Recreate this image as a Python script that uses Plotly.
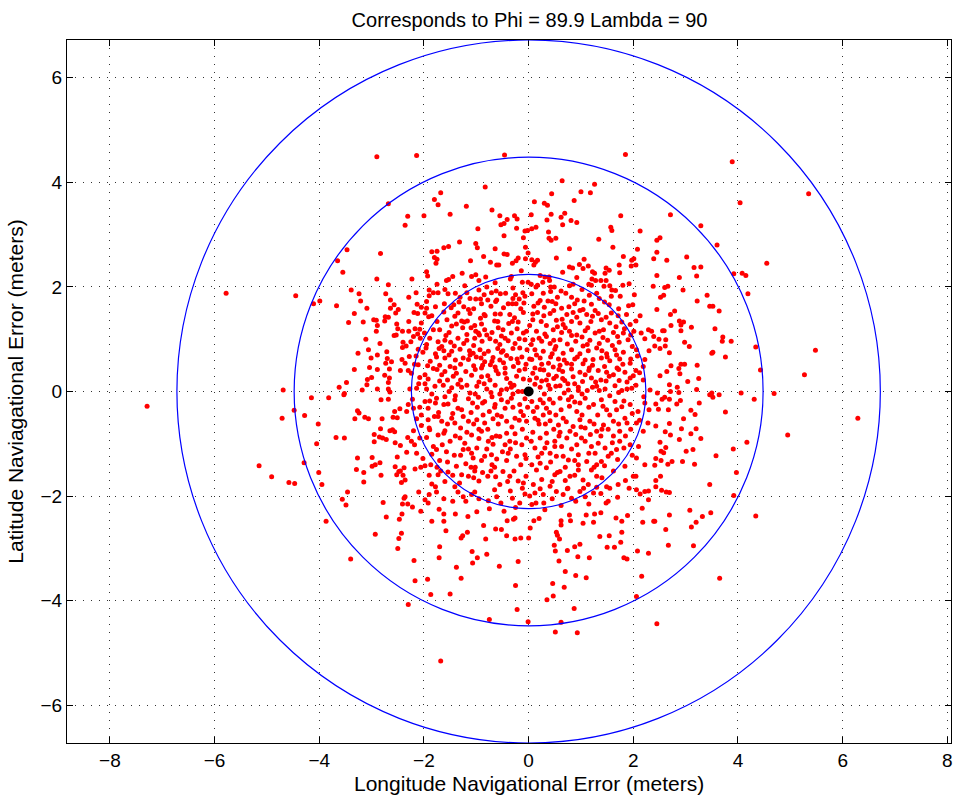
import plotly.graph_objects as go

title_text = "Corresponds to Phi = 89.9 Lambda = 90"
x_title = "Longitude Navigational Error (meters)"
y_title = "Latitude Naviagational Error (meters)"
x_ticks = [-8, -6, -4, -2, 0, 2, 4, 6, 8]
y_ticks = [-6, -4, -2, 0, 2, 4, 6]
circle_radii = [2.24, 4.48, 6.72]
center_point = [0.0, 0.0]

# (longitude error, latitude error) pairs, grouped by region
pts_upper_left = [
    (-2.90, 4.49), (-2.68, 3.59), (-2.36, 3.18), (-3.47, 2.71), (-3.65, 2.50), (-2.83, 2.64),
    (-3.55, 2.28), (-2.90, 2.15), (-2.68, 2.04), (-4.45, 1.83), (-4.11, 1.68), (-3.99, 1.73),
    (-3.39, 1.94), (-3.24, 1.87), (-2.73, 1.87), (-3.21, 1.73), (-2.64, 1.75), (-3.67, 1.64),
    (-2.57, 1.66), (-3.09, 1.59), (-2.64, 1.59), (-3.33, 1.49), (-2.49, 1.57), (-2.96, 1.37),
    (-2.91, 1.36), (-2.74, 1.43), (-2.68, 1.42), (-2.75, 1.35), (-2.54, 1.50), (-3.44, 1.32),
    (-3.16, 1.33), (-2.89, 1.26), (-2.52, 1.29), (-2.91, 1.15), (-2.50, 1.20), (-2.41, 1.15),
    (-2.57, 1.07), (-2.53, 1.08), (-3.11, 1.00), (-2.84, 0.92), (-2.40, 0.94), (-2.41, 0.84),
    (-3.06, 0.80), (-3.26, 0.73), (-2.71, 0.76), (-2.89, 0.70), (-3.01, 0.64), (-2.70, 0.63),
    (-2.73, 0.54), (-2.62, 0.57), (-2.42, 0.61), (-3.04, 0.46), (-2.89, 0.42), (-2.66, 0.43),
    (-2.45, 0.40), (-3.33, 0.42), (-2.75, 0.31), (-2.66, 0.26), (-3.00, 0.27), (-3.08, 0.23),
    (-3.48, 0.17), (-3.09, 0.13), (-2.68, 0.17), (-3.62, 0.08), (-3.18, 0.03), (-2.89, 0.05),
    (-2.68, 0.05), (-4.69, 0.03), (-3.52, -0.04), (-2.65, -0.01), (-5.78, 1.88),
]

pts_upper_mid_left = [
    (-2.14, 4.51), (-0.46, 4.52), (-0.83, 3.91), (-1.68, 3.80), (-1.80, 3.67), (-1.73, 3.57),
    (-1.19, 3.54), (-0.70, 3.47), (-2.31, 3.35), (-2.00, 3.36), (-1.50, 3.39), (-0.55, 3.36),
    (-0.41, 3.29), (-0.27, 3.36), (-0.22, 3.30), (-0.53, 3.19), (-0.47, 3.21), (-0.97, 3.11),
    (-0.23, 3.12), (-0.07, 3.07), (-0.02, 3.08), (-0.47, 2.98), (-0.10, 2.94), (-1.32, 2.86),
    (-1.01, 2.83), (-1.53, 2.77), (-1.62, 2.75), (-0.64, 2.73), (-0.98, 2.75), (-1.85, 2.67),
    (-1.75, 2.68), (-0.06, 2.76), (-0.01, 2.65), (-0.47, 2.63), (-0.41, 2.62), (-0.20, 2.55),
    (-0.06, 2.54), (-0.86, 2.58), (-1.80, 2.56), (-1.75, 2.53), (-1.77, 2.45), (-1.11, 2.50),
    (-0.73, 2.47), (-0.61, 2.42), (-0.57, 2.42), (-0.31, 2.45), (-0.24, 2.50), (-0.14, 2.31),
    (-1.95, 2.29), (-1.93, 2.21), (-1.27, 2.26), (-1.09, 2.20), (-1.01, 2.23), (-1.57, 2.12),
    (-1.53, 2.14), (-2.23, 2.15), (-0.82, 2.19), (-0.33, 2.20), (-0.12, 2.09), (-0.01, 2.09),
    (-0.64, 2.08),
    (-1.90, 1.94), (-1.82, 1.89), (-1.73, 1.89), (-2.15, 1.89), (-2.29, 1.80), (-1.90, 1.83),
    (-1.54, 1.87), (-1.40, 1.88), (-1.31, 1.80), (-1.18, 1.89), (-0.95, 1.94), (-0.85, 1.85),
    (-0.71, 1.89), (-0.54, 1.87), (-0.44, 1.88), (-0.11, 1.89), (-1.01, 1.77), (-0.92, 1.77),
    (-0.90, 1.68), (-0.78, 1.75), (-0.61, 1.75), (-0.30, 1.78), (-0.18, 1.77), (-0.07, 1.82),
    (-2.13, 1.67), (-2.05, 1.61), (-1.95, 1.59), (-1.61, 1.68), (-1.43, 1.66), (-1.48, 1.60),
    (-1.24, 1.62), (-1.15, 1.57), (-0.39, 1.68), (-0.31, 1.68), (-0.24, 1.68), (-0.09, 1.69),
    (-2.19, 1.51), (-2.12, 1.49), (-1.98, 1.50), (-1.91, 1.43), (-1.85, 1.45), (-1.35, 1.50),
    (-0.85, 1.47), (-0.83, 1.45), (-0.64, 1.48), (-0.54, 1.48), (-0.36, 1.47), (-0.10, 1.51),
    (-1.75, 1.34), (-2.29, 1.34), (-1.56, 1.37), (-1.28, 1.35), (-1.23, 1.33), (-1.17, 1.35),
    (-1.03, 1.26), (-0.90, 1.29), (-0.65, 1.35), (-0.59, 1.34), (-0.31, 1.34), (-0.20, 1.33),
    (-2.17, 1.20), (-2.08, 1.19), (-1.99, 1.12), (-2.29, 1.15), (-1.70, 1.18), (-1.52, 1.13),
    (-1.38, 1.29), (-1.10, 1.22), (-1.01, 1.15), (-0.94, 1.08), (-0.84, 1.18), (-0.70, 1.13),
    (-0.49, 1.18), (-0.33, 1.12), (-0.10, 1.12), (-0.04, 1.15), (-2.20, 1.05), (-2.07, 1.02),
    (-1.89, 1.02), (-1.73, 0.95), (-1.60, 0.98), (-1.49, 0.94), (-1.42, 0.87), (-1.24, 0.92),
    (-1.18, 0.98), (-1.03, 1.02), (-0.89, 0.96), (-0.74, 1.01), (-0.63, 0.96), (-0.45, 1.02),
    (-0.39, 0.97), (-0.26, 0.92), (-0.07, 0.99), (-2.34, 0.87), (-2.11, 0.81), (-1.96, 0.83),
    (-1.71, 0.82), (-1.62, 0.78), (-1.47, 0.77), (-1.31, 0.81), (-1.13, 0.78), (-1.06, 0.73),
    (-0.93, 0.80), (-0.77, 0.77), (-0.59, 0.82), (-0.49, 0.78), (-0.17, 0.83), (-0.03, 0.80),
    (-2.28, 0.67), (-1.76, 0.66), (-1.60, 0.64), (-1.25, 0.64), (-1.15, 0.61), (-0.91, 0.64),
    (-0.84, 0.57), (-0.68, 0.65), (-0.55, 0.60), (-0.34, 0.63), (-0.13, 0.66), (-2.36, 0.54),
    (-2.11, 0.51), (-1.93, 0.49), (-1.82, 0.44), (-1.75, 0.42), (-1.50, 0.48), (-1.41, 0.45),
    (-1.05, 0.49), (-0.90, 0.45), (-0.73, 0.51), (-0.64, 0.47), (-0.45, 0.45), (-0.29, 0.48),
    (-0.07, 0.43), (-2.24, 0.35), (-2.08, 0.27), (-1.92, 0.24), (-1.66, 0.32), (-1.44, 0.29),
    (-1.30, 0.22), (-1.09, 0.31), (-0.90, 0.28), (-0.74, 0.22), (-0.58, 0.34), (-0.42, 0.25),
    (-0.23, 0.29), (-0.10, 0.24), (-2.27, 0.05), (-2.14, 0.06), (-1.98, 0.15), (-1.79, 0.10),
    (-1.63, 0.12), (-1.47, 0.07), (-1.28, 0.08), (-1.12, -0.03), (-0.99, 0.10), (-0.80, 0.05),
    (-0.64, 0.12), (-0.52, 0.03), (-0.33, 0.08), (-0.20, 0.00),
]

pts_upper_mid_right = [
    (1.85, 4.53), (0.64, 4.03), (1.26, 3.96), (1.00, 3.82), (1.18, 3.80), (0.44, 3.78),
    (0.11, 3.63), (0.87, 3.65), (0.30, 3.60), (0.36, 3.56), (0.05, 3.38), (0.43, 3.39),
    (0.69, 3.41), (0.62, 3.33), (1.76, 3.36), (0.35, 3.28), (0.81, 3.27), (0.92, 3.23),
    (0.65, 3.19), (0.06, 3.11), (0.14, 3.14), (1.57, 3.14), (1.59, 3.08), (2.13, 3.07),
    (0.38, 3.05), (0.39, 2.93), (0.43, 2.89), (0.52, 2.93), (1.34, 2.91), (0.78, 2.73),
    (1.61, 2.76), (2.08, 2.72), (0.53, 2.55), (1.06, 2.53), (1.81, 2.58), (2.01, 2.54),
    (2.39, 2.54), (0.06, 2.52), (0.13, 2.47), (0.17, 2.51), (0.10, 2.42), (0.97, 2.43),
    (1.97, 2.51), (2.05, 2.42), (1.96, 2.40), (1.73, 2.42), (0.78, 2.38), (0.84, 2.36),
    (1.14, 2.40), (1.04, 2.35), (1.22, 2.29), (1.26, 2.26), (1.48, 2.36), (1.54, 2.32),
    (1.74, 2.27), (1.46, 2.26), (0.31, 2.19), (0.39, 2.19), (0.27, 2.09), (1.21, 2.15),
    (1.28, 2.12), (1.38, 2.12), (1.48, 2.12), (0.17, 2.03), (0.14, 2.00), (0.42, 2.00),
    (0.49, 2.00), (0.78, 2.02), (1.20, 2.03), (1.44, 2.01), (1.59, 1.94), (1.66, 1.93),
    (1.80, 2.03), (1.92, 2.06), (2.38, 2.01),
    (0.06, 1.87), (0.42, 1.91), (0.22, 1.74), (0.45, 1.72), (0.55, 1.80), (0.71, 1.88),
    (0.82, 1.80), (0.93, 1.75), (1.16, 1.84), (1.35, 1.78), (0.10, 1.63), (0.30, 1.61),
    (0.52, 1.68), (0.63, 1.59), (0.88, 1.68), (1.04, 1.57), (1.20, 1.67), (1.54, 1.66),
    (1.91, 1.64), (1.99, 1.66), (0.17, 1.51), (0.41, 1.49), (0.73, 1.47), (0.85, 1.51),
    (1.11, 1.47), (1.33, 1.49), (1.58, 1.50), (1.71, 1.45), (1.87, 1.47), (2.13, 1.45),
    (0.08, 1.37), (0.24, 1.34), (0.34, 1.26), (0.53, 1.36), (0.66, 1.28), (0.82, 1.34),
    (0.98, 1.31), (1.19, 1.34), (1.39, 1.37), (1.55, 1.31), (1.78, 1.33), (1.94, 1.28),
    (2.29, 1.18), (2.35, 1.15), (0.15, 1.15), (0.31, 1.10), (0.47, 1.18), (0.63, 1.13),
    (0.78, 1.15), (0.92, 1.08), (1.08, 1.16), (1.27, 1.12), (1.43, 1.18), (1.62, 1.13),
    (1.81, 1.12), (2.01, 1.15), (2.22, 1.01), (0.08, 0.99), (0.25, 0.96), (0.41, 0.92),
    (0.60, 0.99), (0.74, 0.91), (0.90, 0.96), (1.04, 0.87), (1.17, 0.98), (1.35, 0.92),
    (1.51, 0.98), (1.73, 0.94), (1.90, 0.99), (2.39, 1.05), (0.12, 0.80), (0.28, 0.77),
    (0.50, 0.81), (0.66, 0.73), (0.82, 0.80), (0.98, 0.72), (1.14, 0.78), (1.30, 0.83),
    (1.49, 0.72), (1.65, 0.80), (1.81, 0.75), (2.06, 0.80), (2.22, 0.61), (0.06, 0.61),
    (0.22, 0.64), (0.38, 0.54), (0.57, 0.62), (0.73, 0.54), (0.88, 0.62), (1.04, 0.53),
    (1.23, 0.61), (1.39, 0.64), (1.55, 0.59), (1.74, 0.62), (1.94, 0.54), (2.19, 0.48),
    (0.12, 0.45), (0.29, 0.41), (0.47, 0.47), (0.65, 0.38), (0.82, 0.43), (0.98, 0.37),
    (1.16, 0.45), (1.33, 0.40), (1.49, 0.37), (1.69, 0.45), (1.84, 0.37), (2.05, 0.40),
    (0.15, 0.26), (0.34, 0.22), (0.53, 0.29), (0.69, 0.21), (0.85, 0.28), (1.03, 0.19),
    (1.20, 0.26), (1.38, 0.22), (1.54, 0.29), (1.73, 0.21), (1.94, 0.26), (2.19, 0.22),
    (0.22, 0.08), (0.41, 0.05), (0.60, 0.11), (0.76, 0.03), (0.95, 0.08), (1.12, 0.02),
    (1.30, 0.10), (1.46, 0.05), (1.65, 0.11), (1.78, 0.02), (1.97, 0.06), (2.32, 0.03),
]

pts_upper_right = [
    (3.89, 4.39), (4.04, 3.61), (2.71, 3.38), (3.29, 3.17), (2.45, 2.89), (2.51, 2.94),
    (2.45, 2.66), (2.64, 2.51), (3.02, 2.57), (3.60, 2.80), (3.16, 2.37), (3.29, 2.38),
    (3.21, 2.21), (2.88, 2.18), (2.45, 2.22), (4.55, 2.45), (3.92, 2.25), (4.08, 2.26),
    (4.15, 2.22), (2.60, 1.99), (2.66, 2.01), (2.95, 1.94), (2.52, 1.80), (2.58, 1.84),
    (3.41, 1.84), (4.19, 1.87), (3.22, 1.73), (2.45, 1.57), (2.79, 1.54), (2.71, 1.47),
    (3.46, 1.63), (3.52, 1.63), (3.64, 1.54), (2.88, 1.35), (2.96, 1.33), (2.72, 1.26),
    (2.91, 1.27), (3.11, 1.23), (3.56, 1.20), (2.56, 1.16), (2.59, 1.16), (2.91, 1.16),
    (2.49, 1.00), (2.62, 0.99), (2.41, 0.87), (2.51, 0.82), (2.61, 0.87), (2.69, 0.74),
    (2.98, 0.94), (3.07, 0.86), (3.71, 1.04), (3.70, 0.96), (3.87, 0.96), (3.50, 0.73),
    (3.52, 0.75), (3.76, 0.66), (4.34, 0.85), (2.91, 0.52), (2.98, 0.52), (2.72, 0.49),
    (2.87, 0.44), (3.22, 0.50), (2.64, 0.38), (4.43, 0.41), (2.89, 0.34), (3.25, 0.25),
    (2.51, 0.30), (3.04, 0.19), (2.69, 0.13), (2.84, 0.08), (3.21, 0.04), (2.71, 0.00),
    (2.87, -0.02), (2.46, -0.03), (3.50, -0.03), (4.06, -0.03), (4.69, -0.04),
    (5.35, 3.78), (5.48, 0.79), (5.27, 0.32),
]

pts_lower_left = [
    (-4.15, -0.12), (-3.82, -0.12), (-3.53, -0.06), (-2.82, -0.16), (-2.68, -0.15), (-4.71, -0.51),
    (-4.48, -0.36), (-4.28, -0.46), (-4.02, -0.62), (-4.05, -1.00), (-3.68, -0.88), (-3.52, -0.89),
    (-3.32, -0.52), (-3.27, -0.37), (-3.24, -0.41), (-3.13, -0.49), (-3.06, -0.52), (-2.80, -0.52),
    (-2.56, -0.38), (-2.46, -0.33), (-2.59, -0.49), (-2.51, -0.50), (-2.83, -0.71), (-2.95, -0.82),
    (-2.85, -0.87), (-2.79, -0.89), (-2.72, -0.92), (-2.65, -0.75), (-2.60, -0.73), (-2.56, -0.77),
    (-2.95, -0.96), (-2.55, -0.98), (-2.45, -1.03), (-2.51, -1.25), (-2.99, -1.26), (-3.27, -1.27),
    (-4.29, -1.36), (-3.29, -1.49), (-3.15, -1.55), (-3.15, -1.73), (-4.01, -1.55), (-3.95, -1.78),
    (-4.58, -1.74), (-4.47, -1.76), (-2.99, -1.43), (-2.93, -1.40), (-2.84, -1.36), (-2.82, -1.60),
    (-2.55, -1.44), (-2.48, -1.53), (-2.45, -1.52), (-2.40, -1.60), (-2.43, -1.74), (-2.52, -1.59),
    (-2.38, -1.46), (-2.36, -1.69), (-3.46, -1.92), (-3.56, -2.06), (-3.49, -2.17), (-2.78, -2.12),
    (-2.38, -2.04), (-2.41, -2.15), (-2.47, -2.44), (-2.72, -2.40), (-3.87, -2.48), (-2.42, -2.34),
    (-2.43, -2.71), (-2.93, -2.73), (-2.48, -2.81), (-2.50, -3.00), (-3.40, -3.20),
    (-7.29, -0.28), (-5.15, -1.42), (-4.91, -1.63),
]

pts_lower_mid_left = [
    (-2.30, -0.25), (-2.33, -0.38), (-2.20, -0.32), (-1.98, -0.19), (-1.89, -0.18), (-1.76, -0.13),
    (-1.78, -0.22), (-1.60, -0.10), (-1.54, -0.24), (-1.41, -0.16), (-1.35, -0.32), (-1.15, -0.14),
    (-1.07, -0.22), (-0.96, -0.11), (-0.84, -0.19), (-0.70, -0.10), (-0.64, -0.25), (-0.52, -0.16),
    (-0.45, -0.32), (-0.33, -0.13), (-0.17, -0.25), (-0.07, -0.14), (-2.14, -0.52), (-2.05, -0.45),
    (-1.92, -0.54), (-1.73, -0.48), (-1.66, -0.57), (-1.47, -0.51), (-1.41, -0.60), (-1.25, -0.48),
    (-1.15, -0.57), (-0.99, -0.54), (-0.87, -0.45), (-0.84, -0.60), (-0.68, -0.52), (-0.52, -0.48),
    (-0.42, -0.57), (-0.26, -0.51), (-0.10, -0.46), (-0.04, -0.57), (-2.31, -0.88), (-2.24, -0.95),
    (-2.08, -0.89), (-1.89, -0.73), (-1.73, -0.83), (-1.60, -0.75), (-1.50, -0.95), (-1.31, -0.89),
    (-1.22, -0.99), (-1.09, -0.83), (-0.99, -1.08), (-0.90, -0.76), (-0.77, -0.95), (-0.68, -1.01),
    (-0.55, -0.86), (-0.45, -1.02), (-0.36, -0.95), (-0.26, -0.81), (-0.13, -1.02), (-0.04, -0.89),
    (-2.33, -1.16), (-2.14, -1.18), (-1.82, -1.05), (-1.76, -1.11), (-1.57, -1.15), (-1.25, -1.11),
    (-1.09, -1.18), (-1.06, -1.27), (-0.84, -1.24), (-0.71, -1.21), (-0.61, -1.29), (-0.39, -1.18),
    (-0.23, -1.24), (-0.07, -1.21), (-2.17, -1.48), (-2.06, -1.45), (-1.98, -1.42), (-1.87, -1.40),
    (-1.73, -1.59), (-1.68, -1.52), (-1.54, -1.54), (-1.38, -1.43), (-1.28, -1.59), (-1.15, -1.62),
    (-1.03, -1.52), (-0.95, -1.71), (-0.78, -1.62), (-0.72, -1.52), (-0.63, -1.63), (-0.49, -1.53),
    (-0.36, -1.62), (-0.20, -1.71), (-0.10, -1.75), (-2.36, -2.01), (-2.31, -2.15), (-2.22, -2.21),
    (-2.10, -1.92), (-1.98, -2.07), (-1.90, -1.97), (-1.92, -2.13), (-1.85, -1.77), (-1.78, -1.82),
    (-1.76, -1.92), (-1.41, -1.82), (-1.35, -1.92), (-1.25, -2.01), (-1.20, -2.10), (-1.09, -1.97),
    (-1.03, -1.92), (-0.77, -2.09), (-0.75, -2.24), (-0.61, -2.01), (-0.53, -2.13), (-0.47, -2.29),
    (-0.31, -2.04), (-0.17, -2.13), (-0.07, -1.96),
    (-2.06, -2.29), (-1.71, -2.25), (-1.62, -2.34), (-1.40, -2.34), (-1.16, -2.39), (-0.99, -2.30),
    (-1.85, -2.48), (-1.62, -2.48), (-1.58, -2.66), (-1.29, -2.80), (-1.26, -2.76), (-1.17, -2.69),
    (-0.86, -2.56), (-0.82, -2.82), (-0.63, -2.63), (-0.52, -2.64), (-0.42, -2.76), (-0.26, -2.82),
    (-0.15, -2.80), (-0.29, -2.44), (-0.26, -2.42), (-0.41, -2.47), (0.00, -2.80), (-1.70, -2.97),
    (-1.71, -3.18), (-1.08, -3.06), (-0.98, -3.18), (-0.80, -3.11), (-1.07, -3.28), (-1.38, -3.36),
    (-0.56, -3.34), (-0.20, -3.25), (-2.19, -3.23), (-2.17, -3.62), (-1.93, -3.59), (-1.29, -3.57),
    (-0.25, -3.71), (-1.87, -3.88), (-1.50, -3.87), (-2.30, -4.07), (-0.22, -4.17), (-0.75, -4.36),
    (-0.01, -4.40), (-1.68, -5.15),
]

pts_lower_mid_right = [
    (0.06, -0.19), (0.22, -0.16), (0.09, -0.38), (0.12, -0.51), (0.28, -0.45), (0.34, -0.32),
    (0.47, -0.22), (0.60, -0.13), (0.76, -0.16), (0.82, -0.10), (0.98, -0.22), (1.08, -0.13),
    (1.24, -0.25), (1.39, -0.16), (1.49, -0.35), (1.55, -0.45), (1.65, -0.19), (1.78, -0.29),
    (1.94, -0.25), (2.09, -0.38), (2.22, -0.22), (0.41, -0.56), (0.57, -0.64), (0.66, -0.51),
    (0.79, -0.76), (0.85, -0.67), (0.98, -0.54), (1.08, -0.70), (1.17, -0.57), (1.30, -0.76),
    (1.43, -0.64), (1.62, -0.57), (1.74, -0.76), (1.84, -0.51), (2.06, -0.60), (2.19, -0.76),
    (0.22, -0.89), (0.34, -0.80), (0.50, -0.95), (0.63, -1.05), (0.73, -0.89), (0.92, -1.02),
    (1.01, -0.89), (1.20, -1.05), (1.33, -0.99), (1.46, -1.08), (1.68, -1.11), (1.74, -0.95),
    (1.94, -1.02), (0.12, -1.08), (0.31, -1.08), (0.41, -1.18), (0.53, -1.24), (0.66, -1.24),
    (0.76, -1.31), (0.95, -1.21), (1.11, -1.34), (1.27, -1.18), (1.39, -1.34), (1.52, -1.24),
    (1.84, -1.43), (2.06, -1.27), (2.22, -1.40), (0.06, -1.40), (0.22, -1.37), (0.34, -1.46),
    (0.50, -1.59), (0.60, -1.53), (0.79, -1.62), (0.95, -1.50), (1.04, -1.69), (1.14, -1.78),
    (1.30, -1.62), (1.49, -1.82), (1.71, -1.78), (2.00, -1.62), (2.05, -1.62), (2.06, -1.88),
    (2.13, -1.96), (2.22, -1.91), (2.29, -1.90), (2.29, -2.07), (0.09, -1.78), (0.12, -1.94),
    (0.22, -1.86), (0.28, -1.97), (0.29, -2.13), (0.31, -2.26), (0.41, -1.81), (0.53, -1.91),
    (0.66, -1.97), (0.74, -1.86), (0.82, -2.04), (0.98, -1.91), (1.08, -2.01), (1.24, -1.94),
    (1.30, -1.83), (1.48, -2.13), (1.52, -2.10), (0.06, -2.16), (0.14, -2.13), (0.20, -2.43),
    (0.10, -2.47), (0.03, -2.61),
    (0.78, -2.36), (0.62, -2.47), (0.80, -2.47), (0.62, -2.55), (1.04, -2.52), (1.10, -2.36),
    (1.24, -2.50), (1.26, -2.34), (1.38, -2.32), (1.67, -2.42), (1.78, -2.48), (1.89, -2.37),
    (2.17, -2.23), (2.18, -2.50), (2.39, -2.48), (0.53, -2.69), (0.55, -2.75), (0.59, -2.82),
    (1.36, -2.77), (1.54, -2.76), (1.78, -2.69), (0.49, -2.94), (0.51, -3.05), (0.88, -2.97),
    (0.98, -2.92), (1.50, -2.98), (1.64, -2.98), (1.76, -2.88), (2.08, -3.05), (2.29, -3.09),
    (0.74, -3.04), (0.94, -3.16), (1.16, -3.18), (1.82, -3.18), (1.88, -3.20), (0.58, -3.24),
    (0.70, -3.44), (0.90, -3.52), (1.10, -3.56), (2.16, -3.53), (0.46, -3.67), (0.68, -3.74),
    (0.47, -3.91), (0.35, -3.98), (2.06, -3.92), (0.87, -4.15), (0.62, -4.41), (0.51, -4.60),
    (0.93, -4.61),
]

pts_lower_right = [
    (3.46, -0.06), (3.52, -0.11), (3.64, -0.06), (4.31, -0.15), (2.43, -0.24), (2.55, -0.15),
    (2.60, -0.11), (2.69, -0.15), (2.90, -0.17), (2.83, -0.24), (3.26, -0.22), (2.48, -0.34),
    (2.67, -0.35), (3.10, -0.36), (3.18, -0.44), (3.76, -0.39), (2.96, -0.52), (2.43, -0.66),
    (2.69, -0.61), (2.92, -0.71), (3.20, -0.71), (2.61, -0.77), (2.71, -0.83), (3.10, -0.81),
    (3.29, -0.90), (2.88, -0.92), (2.51, -0.97), (2.62, -1.07), (2.53, -1.14), (2.58, -1.17),
    (3.01, -1.14), (3.14, -1.11), (3.91, -1.10), (4.17, -0.97), (2.43, -1.28), (2.53, -1.32),
    (2.66, -1.39), (2.74, -1.34), (2.94, -1.34), (3.17, -1.39), (3.58, -1.23), (2.41, -1.41),
    (3.97, -1.55), (2.52, -1.62), (2.43, -1.70), (2.43, -1.82), (2.54, -1.89), (2.63, -1.92),
    (2.69, -1.93), (3.46, -1.78), (3.92, -1.99), (3.08, -2.27), (2.69, -2.36), (3.48, -2.32),
    (3.32, -2.39), (3.20, -2.50), (3.11, -2.59), (2.41, -2.48), (2.62, -2.64), (4.34, -2.38),
    (2.67, -2.94), (3.15, -2.95), (3.65, -3.57), (2.45, -4.44),
    (6.29, -0.51), (4.95, -0.83),
]

# further points estimated in the crowded core, where single dots overlap
pts_core_dense = [
    (-1.95, 1.72), (-1.62, 1.52), (-1.33, 1.71), (-1.05, 1.58), (-0.72, 1.63), (-0.48, 1.60),
    (-0.15, 1.58), (0.18, 1.69), (0.48, 1.55), (0.77, 1.62), (1.06, 1.73), (1.27, 1.55),
    (1.45, 1.71), (1.72, 1.58), (-2.05, 1.31), (-1.82, 1.18), (-1.47, 1.25), (-1.18, 1.09),
    (-0.92, 1.40), (-0.58, 1.22), (-0.27, 1.41), (0.02, 1.26), (0.29, 1.45), (0.55, 1.24),
    (0.92, 1.42), (1.13, 1.22), (1.48, 1.42), (1.67, 1.24), (2.05, 1.35), (-2.25, 0.95),
    (-1.95, 0.90), (-1.66, 0.86), (-1.35, 1.02), (-1.05, 0.88), (-0.80, 1.08), (-0.55, 0.90),
    (-0.18, 1.01), (0.05, 0.90), (0.34, 1.05), (0.52, 0.86), (0.82, 1.07), (1.12, 0.90),
    (1.42, 1.03), (1.60, 0.88), (1.98, 0.86), (2.15, 1.12), (-2.15, 0.68), (-1.88, 0.58),
    (-1.52, 0.70), (-1.30, 0.52), (-1.00, 0.66), (-0.70, 0.58), (-0.42, 0.69), (-0.20, 0.55),
    (0.15, 0.70), (0.42, 0.66), (0.60, 0.50), (0.93, 0.66), (1.22, 0.50), (1.50, 0.66),
    (1.80, 0.52), (2.08, 0.68), (2.30, 0.78), (-2.30, 0.40), (-1.98, 0.32), (-1.70, 0.50),
    (-1.55, 0.22), (-1.20, 0.38), (-0.95, 0.18), (-0.62, 0.40), (-0.35, 0.16), (-0.18, 0.40),
    (0.08, 0.35), (0.38, 0.32), (0.58, 0.42), (0.75, 0.15), (1.08, 0.32), (1.28, 0.18),
    (1.62, 0.32), (1.88, 0.18), (2.12, 0.36), (-2.10, 0.15), (-1.85, -0.05), (-1.52, 0.00),
    (-1.35, 0.14), (-1.02, -0.05), (-0.85, 0.15), (-0.55, -0.05), (-0.28, 0.12), (0.12, 0.14),
    (0.30, -0.05), (0.52, 0.10), (0.88, 0.15), (1.02, -0.05), (1.35, 0.02), (1.55, -0.08),
    (1.88, 0.05), (2.20, -0.10), (-2.22, -0.15), (-1.92, -0.32), (-1.62, -0.25), (-1.28, -0.35),
    (-0.98, -0.30), (-0.75, -0.38), (-0.40, -0.20), (-0.15, -0.38), (0.16, -0.30), (0.40, -0.15),
    (0.62, -0.35), (0.92, -0.38), (1.15, -0.30), (1.32, -0.45), (1.68, -0.35), (1.98, -0.42),
    (2.30, -0.35), (-2.05, -0.65), (-1.80, -0.48), (-1.55, -0.62), (-1.30, -0.70), (-1.05, -0.62),
    (-0.78, -0.72), (-0.58, -0.62), (-0.32, -0.68), (-0.12, -0.72), (0.20, -0.62), (0.48, -0.72),
    (0.72, -0.58), (1.00, -0.68), (1.25, -0.62), (1.52, -0.72), (1.72, -0.62), (1.95, -0.72),
    (2.28, -0.60), (-2.18, -1.02), (-1.95, -0.88), (-1.65, -1.02), (-1.40, -0.85), (-1.15, -1.10),
    (-0.95, -0.90), (-0.62, -0.85), (-0.50, -1.15), (-0.25, -0.98), (0.05, -0.95), (0.35, -0.98),
    (0.58, -0.85), (0.82, -1.10), (1.08, -0.95), (1.38, -0.85), (1.60, -0.98), (1.85, -0.85),
    (2.10, -1.05), (-2.02, -1.28), (-1.70, -1.32), (-1.42, -1.22), (-1.20, -1.38), (-0.90, -1.32),
    (-0.70, -1.40), (-0.42, -1.32), (-0.15, -1.40), (0.18, -1.25), (0.42, -1.35), (0.70, -1.45),
    (0.88, -1.32), (1.15, -1.18), (1.45, -1.42), (1.70, -1.30), (1.98, -1.22), (-1.90, -1.60),
    (-1.60, -1.72), (-1.32, -1.75), (-1.10, -1.45), (-0.88, -1.55), (-0.55, -1.78), (-0.28, -1.52),
    (-0.05, -1.62), (0.25, -1.68), (0.45, -1.72), (0.70, -1.70), (0.88, -1.60), (1.20, -1.50),
    (1.40, -1.65), (1.62, -1.52), (1.85, -1.70), (-1.62, -2.05), (-1.45, -2.10), (-0.95, -2.05),
    (-0.65, -1.88), (-0.35, -1.90), (-0.25, -2.22), (0.02, -2.00), (0.45, -2.05), (0.62, -2.18),
    (0.90, -2.10), (1.15, -2.15), (1.38, -1.95), (1.70, -2.02), (1.92, -1.85), (-1.60, 1.95),
    (-1.22, 2.02), (-0.80, 2.00), (-0.30, 1.98), (0.05, 2.05), (0.62, 1.92), (1.02, 1.95),
    (1.30, 1.88), (1.75, 1.82), (2.02, 1.85), (-0.35, 2.15), (0.22, 2.22), (0.92, 2.18),
    (-1.45, 2.20), (0.65, 2.28), (-0.12, 0.00), (-0.30, -0.05), (0.25, 0.20), (-0.45, 0.35),
    (0.40, -0.40), (-0.65, -0.30), (0.65, 0.25), (0.18, -0.55), (-0.22, 0.62), (0.45, 0.72),
    (-0.88, 0.50), (0.88, -0.20),
    (-1.78, 1.62), (-1.41, 1.44), (-1.12, 1.49), (-0.63, 1.72), (-0.38, 1.30), (0.08, 1.48),
    (0.37, 1.73), (0.64, 1.38), (0.98, 1.55), (1.22, 1.44), (1.58, 1.82), (1.83, 1.20),
    (-2.12, 1.10), (-1.58, 1.07), (-1.26, 1.22), (-0.96, 1.12), (-0.52, 1.06), (-0.22, 1.20),
    (0.20, 1.02), (0.48, 0.98), (0.70, 1.22), (1.02, 1.04), (1.35, 1.15), (1.70, 1.05),
    (1.95, 1.08), (-2.02, 0.75), (-1.78, 0.72), (-1.40, 0.60), (-1.12, 0.70), (-0.85, 0.72),
    (-0.52, 0.75), (-0.30, 0.82), (0.02, 0.62), (0.25, 0.52), (0.68, 0.60), (1.08, 0.60),
    (1.40, 0.78), (1.68, 0.70), (1.95, 0.62), (-2.18, 0.52), (-1.60, 0.38), (-1.38, 0.35),
    (-1.02, 0.42), (-0.78, 0.30), (-0.48, 0.55), (-0.05, 0.52), (0.22, 0.42), (0.48, 0.25),
    (0.82, 0.52), (1.15, 0.40), (1.45, 0.48), (1.72, 0.42), (2.00, 0.30), (-1.95, 0.05),
    (-1.70, 0.20), (-1.40, -0.08), (-1.18, 0.12), (-0.72, -0.02), (-0.42, 0.05), (0.02, 0.22),
    (0.38, 0.12), (0.68, -0.03), (0.95, 0.02), (1.22, 0.08), (1.48, 0.20), (1.72, -0.02),
    (2.05, 0.12), (-2.08, -0.30), (-1.72, -0.40), (-1.45, -0.42), (-1.10, -0.40), (-0.88, -0.22),
    (-0.60, -0.45), (-0.30, -0.30), (-0.02, -0.30), (0.28, -0.22), (0.52, -0.45), (0.78, -0.28),
    (1.02, -0.45), (1.42, -0.28), (1.82, -0.18), (2.12, -0.55), (-2.20, -0.75), (-1.90, -0.70),
    (-1.62, -0.80), (-1.18, -0.78), (-0.95, -0.72), (-0.70, -0.88), (-0.42, -0.80), (-0.18, -0.55),
    (0.08, -0.78), (0.32, -0.62), (0.60, -0.78), (0.90, -0.82), (1.18, -0.82), (1.40, -0.72),
    (1.62, -0.85), (1.88, -0.60), (-1.85, -1.20), (-1.55, -1.35), (-1.30, -1.22), (-1.02, -1.45),
    (-0.80, -1.10), (-0.35, -1.10), (-0.05, -1.28), (0.25, -1.18), (0.50, -1.05), (0.95, -1.40),
    (1.25, -1.45), (1.58, -1.18), (1.82, -1.08), (-1.75, -1.45), (-1.45, -1.60), (-1.05, -1.65),
    (-0.65, -1.45), (-0.40, -1.72), (-0.12, -1.85), (0.15, -1.50), (0.55, -1.55), (0.75, -1.85),
    (1.05, -1.85), (1.30, -1.40), (1.55, -1.85), (-1.12, 1.78), (-0.62, 1.92), (-0.25, 1.85),
    (0.28, 1.88), (0.85, 2.05), (1.15, 2.05), (-1.75, 2.05), (-0.95, 2.12), (0.40, 2.12),
    (1.55, 2.02),
]

groups = [pts_upper_left, pts_upper_mid_left, pts_upper_mid_right, pts_upper_right,
          pts_lower_left, pts_lower_mid_left, pts_lower_mid_right, pts_lower_right,
          pts_core_dense]
lon_err = [p[0] for g in groups for p in g]
lat_err = [p[1] for g in groups for p in g]

fig = go.Figure()
fig.add_trace(go.Scatter(
    x=lon_err, y=lat_err, mode="markers",
    marker=dict(color="#ff0000", size=5, line=dict(width=0)),
    showlegend=False, hoverinfo="skip",
))
fig.add_trace(go.Scatter(
    x=[center_point[0]], y=[center_point[1]], mode="markers",
    marker=dict(color="#000000", size=10, line=dict(width=0)),
    showlegend=False, hoverinfo="skip",
))

for r in circle_radii:
    fig.add_shape(type="circle", xref="x", yref="y",
                  x0=-r, y0=-r, x1=r, y1=r,
                  line=dict(color="#0000ff", width=1.2), layer="above")

font_family = "Liberation Sans, Arial, Helvetica, sans-serif"
axis_common = dict(
    showgrid=True, gridcolor="rgba(0,0,0,0.8)", griddash="1px,7px", gridwidth=1,
    zeroline=False, showline=True, linecolor="black", linewidth=1, mirror="ticks",
    ticks="inside", ticklen=6, tickcolor="black", tickwidth=1,
    tickfont=dict(family=font_family, size=19, color="black"),
    automargin=False,
)

fig.update_layout(
    width=961, height=802,
    paper_bgcolor="white", plot_bgcolor="white",
    margin=dict(l=67, r=10, t=40, b=59),
    title=dict(text=title_text, x=0.551, xanchor="center", y=0.984, yanchor="top",
               font=dict(family=font_family, size=20, color="black")),
    font=dict(family=font_family, color="black"),
    xaxis=dict(range=[-8.82, 8.07], tickvals=x_ticks, **axis_common),
    yaxis=dict(range=[-6.72, 6.72], tickvals=y_ticks,
               title=dict(text=y_title, font=dict(family=font_family, size=21), standoff=11),
               **axis_common),
)

# x-axis label, centred under x = 0 as in the original figure
fig.add_annotation(text=x_title, xref="paper", yref="paper",
                   x=0.5226, y=-0.058, xanchor="center", yanchor="middle",
                   showarrow=False, font=dict(family=font_family, size=21, color="black"))

fig.write_html("out.html")
